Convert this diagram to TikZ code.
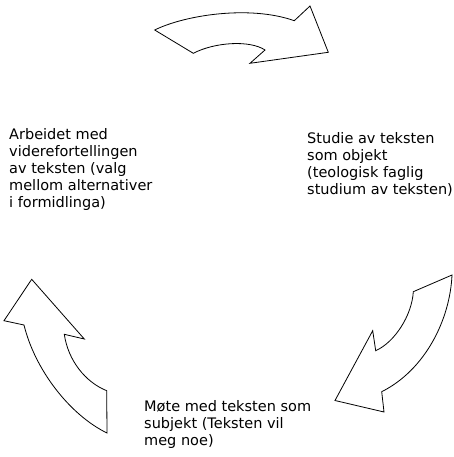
\documentclass[tikz,border=0pt]{standalone}
\usepackage{fontspec}
\setmainfont{DejaVu Sans}

\begin{document}
\begin{tikzpicture}
  [x=1pt,y=-1pt,
   every node/.style={inner sep=0pt,align=left,anchor=base west,
     font=\fontsize{14.5}{17}\selectfont},
   arrowshape/.style={draw,line width=0.8pt,line join=miter}]
  \useasboundingbox (0,0) rectangle (453,457);
  % the three arrows of the circle
  \draw[arrowshape] (154.7,30) .. controls (185,15) and (250,5) .. (294.3,20.7)
    -- (310,6) -- (328.3,52.3) -- (250,63.3) -- (265,50)
    .. controls (250,40) and (215,42) .. (193.3,53.3) -- cycle;
  \draw[arrowshape] (452,275) -- (413.3,291.7)
    .. controls (412,315) and (395,342) .. (375.7,350.7)
    -- (372.7,330.7) -- (335,400.5) -- (384,412) -- (381.7,391.7)
    .. controls (425,370) and (450,320) .. (452,275) -- cycle;
  \draw[arrowshape] (31.7,279.3) -- (84.3,339) -- (64.3,334.3)
    .. controls (68,360) and (85,382) .. (106.7,390.7) -- (107,433)
    .. controls (70,415) and (35,370) .. (24,325) -- (4,320.7) -- cycle;
  % texts (base = last line)
  \node (work) at (9,207) {Arbeidet med\\viderefortellingen\\av teksten (valg\\mellom alternativer\\i formidlinga)};
  \node (study) at (307,194) {Studie av teksten\\som objekt\\(teologisk faglig\\studium av teksten)};
  \node (meet) at (144,445.5) {Møte med teksten som\\subjekt (Teksten vil\\meg noe)};
\end{tikzpicture}
\end{document}
